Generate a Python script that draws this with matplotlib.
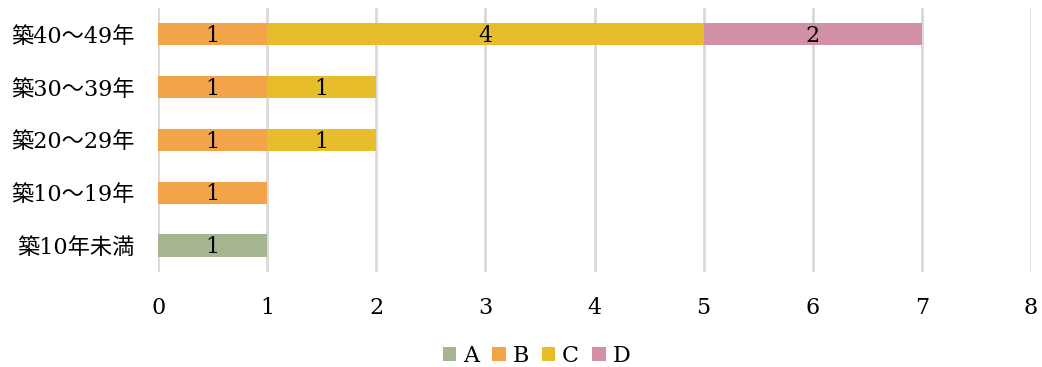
import matplotlib.pyplot as plt
import numpy as np

# data
categories = ['築40〜49年', '築30〜39年', '築20〜29年', '築10〜19年', '築10年未満']
series = ['A', 'B', 'C', 'D']
values_a = [0, 0, 0, 0, 1]
values_b = [1, 1, 1, 1, 0]
values_c = [4, 1, 1, 0, 0]
values_d = [2, 0, 0, 0, 0]
colors = ['#a5b592', '#f4a448', '#e7bd2b', '#d291a7']

fam = ['DejaVu Serif', 'Noto Sans CJK JP']
plt.rcParams['font.family'] = fam

fig = plt.figure(figsize=(10.42, 3.67), dpi=100)
ax = fig.add_axes([0.1519, 0.2589, 0.8373, 0.7193])

y = np.arange(len(categories))
left = np.zeros(len(categories))
for name, vals, col in zip(series, [values_a, values_b, values_c, values_d], colors):
    vals = np.array(vals, dtype=float)
    ax.barh(y, vals, left=left, height=0.42, color=col, label=name, zorder=3)
    for yi, l, v in zip(y, left, vals):
        if v > 0:
            ax.text(l + v / 2, yi + 0.03, f'{int(v)}', ha='center', va='center',
                    fontsize=16, color='black', zorder=4)
    left += vals

ax.set_xlim(0, 8)
ax.set_ylim(len(categories) - 0.5, -0.5)
ax.set_xticks(range(9))
ax.set_yticks(y)
ax.set_yticklabels(categories, fontsize=16)
ax.tick_params(axis='x', labelsize=16, length=0, pad=18)
ax.tick_params(axis='y', length=0, pad=17)
ax.grid(axis='x', color='#d9d9d9', linewidth=2, zorder=0)
for s in ax.spines.values():
    s.set_visible(False)

fig.legend(loc='center', bbox_to_anchor=(0.515, 0.03), ncol=4, frameon=False,
           fontsize=16, handlelength=0.6, handleheight=0.6, handletextpad=0.3,
           columnspacing=0.6)

fig.savefig('out.png', dpi=100)
